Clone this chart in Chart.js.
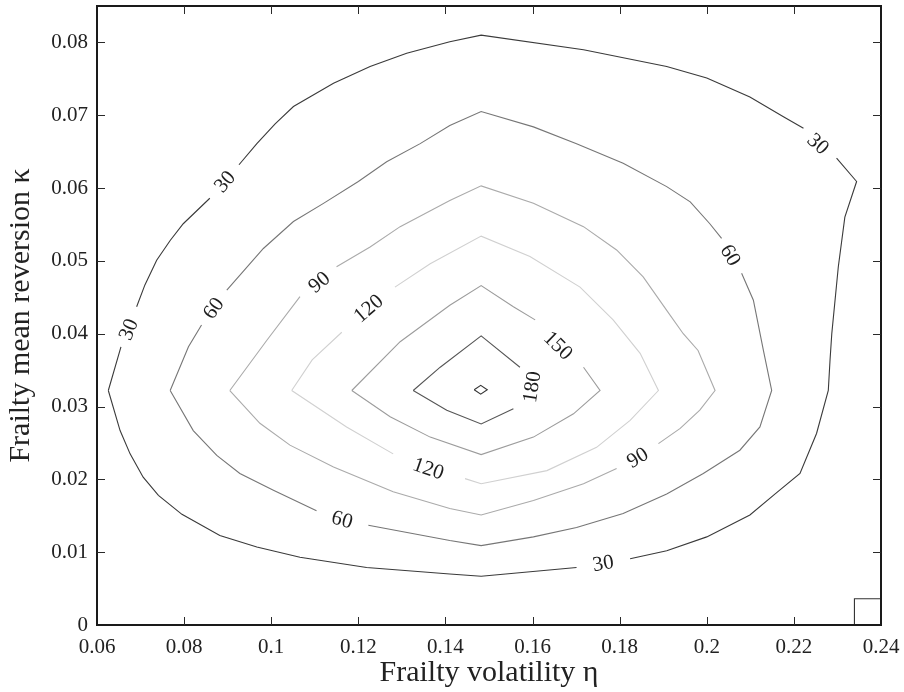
<!DOCTYPE html>
<html>
<head>
<meta charset="utf-8">
<title>Frailty contour</title>
<script src="https://cdn.jsdelivr.net/npm/chart.js@4/dist/chart.umd.min.js"></script>
<style>
html, body { margin: 0; padding: 0; background: #ffffff; }
canvas { display: block; }
</style>
</head>
<body>
<canvas id="chart" width="904" height="692"></canvas>
<script>
// ---- Axis ticks ----
const xTickValues = [0.06, 0.08, 0.10, 0.12, 0.14, 0.16, 0.18, 0.20, 0.22, 0.24];
const xTickLabels = ['0.06', '0.08', '0.1', '0.12', '0.14', '0.16', '0.18', '0.2', '0.22', '0.24'];
const yTickValues = [0, 0.01, 0.02, 0.03, 0.04, 0.05, 0.06, 0.07, 0.08];
const yTickLabels = ['0', '0.01', '0.02', '0.03', '0.04', '0.05', '0.06', '0.07', '0.08'];
const xTitle = 'Frailty volatility η';
const yTitle = 'Frailty mean reversion κ';

// ---- Contour lines: [eta, kappa] pairs, null = gap where a label sits ----
const contour30 = [[0.0626,0.0322],[0.0655,0.0382],null,[0.0691,0.0437],[0.0710,0.0467],[0.0737,0.0501],[0.0768,0.0528],[0.0798,0.0551],[0.0859,0.0586],null,[0.0926,0.0632],[0.0967,0.0661],[0.1009,0.0688],[0.1051,0.0712],[0.1143,0.0744],[0.1227,0.0767],[0.1311,0.0785],[0.1410,0.0801],[0.1482,0.0810],[0.1717,0.0790],[0.1908,0.0767],[0.2000,0.0751],[0.2099,0.0725],[0.2176,0.0698],[0.2222,0.0682],null,[0.2298,0.0641],[0.2344,0.0609],[0.2317,0.0560],[0.2302,0.0492],[0.2287,0.0400],[0.2283,0.0364],[0.2279,0.0322],[0.2252,0.0263],[0.2214,0.0208],[0.2157,0.0180],[0.2099,0.0151],[0.2000,0.0121],[0.1908,0.0102],[0.1824,0.0091],null,[0.1701,0.0079],[0.1482,0.0067],[0.1410,0.0070],[0.1219,0.0079],[0.1066,0.0093],[0.0967,0.0107],[0.0882,0.0123],[0.0795,0.0152],[0.0741,0.0178],[0.0706,0.0203],[0.0676,0.0235],[0.0653,0.0267],[0.0626,0.0322]];
const contour60 = [[0.0768,0.0322],[0.0810,0.0382],[0.0840,0.0412],null,[0.0898,0.0460],[0.0982,0.0517],[0.1051,0.0554],[0.1120,0.0579],[0.1200,0.0609],[0.1265,0.0636],[0.1342,0.0661],[0.1410,0.0686],[0.1482,0.0705],[0.1602,0.0684],[0.1701,0.0661],[0.1808,0.0634],[0.1908,0.0602],[0.1962,0.0581],[0.2007,0.0551],[0.2034,0.0531],null,[0.2080,0.0483],[0.2107,0.0446],[0.2130,0.0377],[0.2149,0.0322],[0.2122,0.0272],[0.2076,0.0240],[0.1992,0.0208],[0.1908,0.0180],[0.1808,0.0153],[0.1701,0.0134],[0.1602,0.0121],[0.1482,0.0109],[0.1410,0.0116],[0.1223,0.0137],null,[0.1104,0.0157],[0.1005,0.0185],[0.0928,0.0208],[0.0875,0.0233],[0.0821,0.0267],[0.0768,0.0322]];
const contour90 = [[0.0905,0.0322],[0.0990,0.0391],[0.1066,0.0451],null,[0.1150,0.0492],[0.1227,0.0519],[0.1296,0.0547],[0.1410,0.0583],[0.1482,0.0603],[0.1602,0.0579],[0.1717,0.0547],[0.1793,0.0515],[0.1854,0.0478],[0.1908,0.0432],[0.1946,0.0400],[0.1980,0.0377],[0.2019,0.0322],[0.1984,0.0295],[0.1939,0.0270],[0.1889,0.0249],null,[0.1793,0.0215],[0.1717,0.0194],[0.1602,0.0171],[0.1482,0.0151],[0.1410,0.0160],[0.1280,0.0183],[0.1143,0.0217],[0.1043,0.0247],[0.0974,0.0277],[0.0905,0.0322]];
const contour120 = [[0.1047,0.0322],[0.1094,0.0364],[0.1162,0.0402],null,[0.1284,0.0464],[0.1365,0.0496],[0.1482,0.0534],[0.1594,0.0506],[0.1709,0.0464],[0.1785,0.0419],[0.1847,0.0373],[0.1889,0.0322],[0.1824,0.0281],[0.1747,0.0244],[0.1633,0.0212],[0.1482,0.0194],[0.1445,0.0201],null,[0.1280,0.0235],[0.1173,0.0272],[0.1047,0.0322]];
const contour150 = [[0.1185,0.0322],[0.1296,0.0389],[0.1410,0.0439],[0.1482,0.0466],[0.1556,0.0437],[0.1606,0.0419],null,[0.1717,0.0354],[0.1755,0.0322],[0.1694,0.0290],[0.1602,0.0258],[0.1482,0.0234],[0.1365,0.0258],[0.1273,0.0286],[0.1185,0.0322]];
const contour180 = [[0.1326,0.0322],[0.1388,0.0354],[0.1482,0.0397],[0.1571,0.0354],null,[0.1556,0.0297],[0.1482,0.0276],[0.1403,0.0295],[0.1326,0.0322]];
const contourInner = [[0.1466,0.0323],[0.1481,0.0329],[0.1496,0.0323],[0.1481,0.0317],[0.1466,0.0323]];
const contourCorner = [[0.2339,0.0000],[0.2339,0.0036],[0.2400,0.0036]];

// ---- Contour labels (data coordinates) ----
const labelLevels = [30, 30, 30, 30, 60, 60, 60, 90, 90, 120, 120, 150, 180];
const labelEta    = [0.0672, 0.0893, 0.2256, 0.1762, 0.0867, 0.2055, 0.1163, 0.1110, 0.1841, 0.1223, 0.1361, 0.1659, 0.1598];
const labelKappa  = [0.0406, 0.0609, 0.0661, 0.0085, 0.0435, 0.0508, 0.0145, 0.0471, 0.0230, 0.0435, 0.0215, 0.0384, 0.0327];

const contourByLevel = { 30: contour30, 60: contour60, 90: contour90, 120: contour120, 150: contour150, 180: contour180 };

const toXY = pts => pts.map(p => p ? { x: p[0], y: p[1] } : { x: null, y: null });

function lineSet(name, pts, color) {
  return {
    label: name,
    data: toXY(pts),
    showLine: true,
    spanGaps: false,
    borderColor: color,
    backgroundColor: color,
    borderWidth: 1.1,
    pointRadius: 0,
    pointHoverRadius: 0,
    tension: 0,
    fill: false
  };
}

const SERIF = '"Liberation Serif", "DejaVu Serif", serif';

const frameAndLabels = {
  id: 'frameAndLabels',
  afterDatasetsDraw(chart) {
    const { ctx, chartArea: a, scales: { x, y } } = chart;
    ctx.save();
    // contour labels, rotated along the gap they sit in
    ctx.font = '21px ' + SERIF;
    ctx.fillStyle = '#1e1e1e';
    ctx.textAlign = 'center';
    ctx.textBaseline = 'middle';
    labelLevels.forEach((lev, i) => {
      const px = x.getPixelForValue(labelEta[i]);
      const py = y.getPixelForValue(labelKappa[i]);
      const pts = contourByLevel[lev];
      let best = null, bd = Infinity;
      for (let k = 1; k < pts.length - 1; k++) {
        if (pts[k] === null && pts[k - 1] && pts[k + 1]) {
          const x1 = x.getPixelForValue(pts[k - 1][0]), y1 = y.getPixelForValue(pts[k - 1][1]);
          const x2 = x.getPixelForValue(pts[k + 1][0]), y2 = y.getPixelForValue(pts[k + 1][1]);
          const d = ((x1 + x2) / 2 - px) ** 2 + ((y1 + y2) / 2 - py) ** 2;
          if (d < bd) { bd = d; best = [x1, y1, x2, y2]; }
        }
      }
      let ang = best ? Math.atan2(best[3] - best[1], best[2] - best[0]) : 0;
      if (ang > Math.PI / 2) ang -= Math.PI;
      if (ang <= -Math.PI / 2) ang += Math.PI;
      ctx.save();
      ctx.translate(px, py);
      ctx.rotate(ang);
      ctx.fillText(String(lev), 0, 1);
      ctx.restore();
    });
    // frame
    ctx.strokeStyle = '#1a1a1a';
    ctx.lineWidth = 2;
    ctx.strokeRect(a.left, a.top, a.right - a.left, a.bottom - a.top);
    // inward ticks on all four sides
    ctx.strokeStyle = '#2a2a2a';
    ctx.lineWidth = 1;
    const L = 8;
    ctx.beginPath();
    xTickValues.forEach(v => {
      const p = Math.round(x.getPixelForValue(v)) + 0.5;
      if (p < a.left + 2 || p > a.right - 2) return;
      ctx.moveTo(p, a.bottom); ctx.lineTo(p, a.bottom - L);
      ctx.moveTo(p, a.top); ctx.lineTo(p, a.top + L);
    });
    yTickValues.forEach(v => {
      const p = Math.round(y.getPixelForValue(v)) + 0.5;
      if (p < a.top + 2 || p > a.bottom - 2) return;
      ctx.moveTo(a.left, p); ctx.lineTo(a.left + L, p);
      ctx.moveTo(a.right, p); ctx.lineTo(a.right - L, p);
    });
    ctx.stroke();
    ctx.restore();
  }
};

const pickLabel = (vals, labels, v) => {
  const i = vals.findIndex(t => Math.abs(t - v) < 1e-9);
  return i >= 0 ? labels[i] : '';
};

new Chart(document.getElementById('chart'), {
  type: 'scatter',
  data: {
    datasets: [
      lineSet('30', contour30, '#3a3a3a'),
      lineSet('60', contour60, '#767676'),
      lineSet('90', contour90, '#aaaaaa'),
      lineSet('120', contour120, '#d0d0d0'),
      lineSet('150', contour150, '#9c9c9c'),
      lineSet('180', contour180, '#555555'),
      lineSet('inner', contourInner, '#333333'),
      lineSet('corner', contourCorner, '#333333')
    ]
  },
  options: {
    responsive: false,
    animation: false,
    devicePixelRatio: 1,
    layout: { padding: { top: 6, right: 23, bottom: 0, left: 0 } },
    plugins: {
      legend: { display: false },
      tooltip: { enabled: false },
      title: { display: false }
    },
    events: [],
    scales: {
      x: {
        type: 'linear',
        min: 0.06,
        max: 0.24,
        afterBuildTicks: s => { s.ticks = xTickValues.map(v => ({ value: v })); },
        afterFit: s => { s.height = 67; s.paddingLeft = 0; s.paddingRight = 0; },
        grid: { display: false, drawTicks: false },
        border: { display: false },
        ticks: {
          autoSkip: false,
          maxRotation: 0,
          padding: 10,
          color: '#222222',
          font: { family: SERIF, size: 21 },
          callback: v => pickLabel(xTickValues, xTickLabels, v)
        },
        title: {
          display: true,
          text: xTitle,
          color: '#222222',
          font: { family: SERIF, size: 30 },
          padding: { top: 0, bottom: 1 }
        }
      },
      y: {
        type: 'linear',
        min: 0,
        max: 0.085,
        afterBuildTicks: s => { s.ticks = yTickValues.map(v => ({ value: v })); },
        afterFit: s => { s.width = 97; s.paddingTop = 0; s.paddingBottom = 0; },
        grid: { display: false, drawTicks: false },
        border: { display: false },
        ticks: {
          autoSkip: false,
          padding: 9,
          color: '#222222',
          font: { family: SERIF, size: 21 },
          callback: v => pickLabel(yTickValues, yTickLabels, v)
        },
        title: {
          display: true,
          text: yTitle,
          color: '#222222',
          font: { family: SERIF, size: 30 },
          padding: { top: 3, bottom: 0 }
        }
      }
    }
  },
  plugins: [frameAndLabels]
});
</script>
</body>
</html>
